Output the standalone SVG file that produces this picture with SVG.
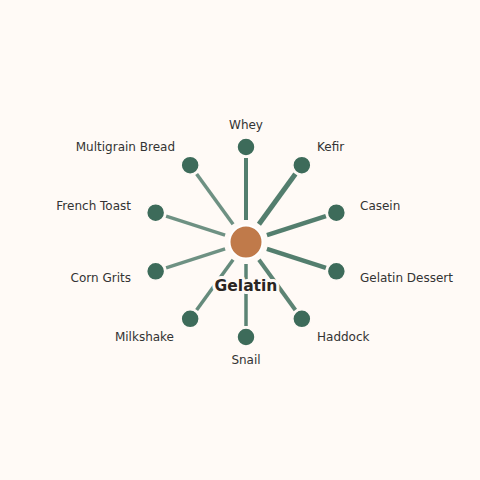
<svg xmlns="http://www.w3.org/2000/svg" width="480" height="480" viewBox="0 0 480 480">
<style>
.spoke{stroke:#4a7766;stroke-linecap:butt;fill:none}
.node{fill:#3d6b5a;stroke:#fffaf6;stroke-width:1.5}
.lbl{font-family:"DejaVu Sans",sans-serif;font-size:12px;fill:#333}
.hub{fill:#c07a4a;stroke:#ffffff;stroke-width:2}
.title{font-family:"DejaVu Sans",sans-serif;font-size:15.5px;font-weight:bold;fill:#2a2522;stroke:#fffaf6;stroke-width:6;paint-order:stroke;stroke-linejoin:round}
</style>
<rect width="480" height="480" fill="#fffaf6"/>
<g id="connectors">
<line class="spoke" x1="246" y1="220" x2="246" y2="158" stroke-width="4" stroke-opacity="0.95"/>
<line class="spoke" x1="258.93" y1="224.2" x2="295.38" y2="174.04" stroke-width="5" stroke-opacity="0.95"/>
<line class="spoke" x1="266.92" y1="235.2" x2="325.89" y2="216.04" stroke-width="4.5" stroke-opacity="0.95"/>
<line class="spoke" x1="266.92" y1="248.8" x2="325.89" y2="267.96" stroke-width="4.5" stroke-opacity="0.95"/>
<line class="spoke" x1="258.93" y1="259.8" x2="295.38" y2="309.96" stroke-width="4" stroke-opacity="0.9"/>
<line class="spoke" x1="246" y1="264" x2="246" y2="326" stroke-width="3.5" stroke-opacity="0.9"/>
<line class="spoke" x1="233.07" y1="259.8" x2="196.62" y2="309.96" stroke-width="3.5" stroke-opacity="0.85"/>
<line class="spoke" x1="225.08" y1="248.8" x2="166.11" y2="267.96" stroke-width="3.5" stroke-opacity="0.8"/>
<line class="spoke" x1="225.08" y1="235.2" x2="166.11" y2="216.04" stroke-width="3.5" stroke-opacity="0.8"/>
<line class="spoke" x1="233.07" y1="224.2" x2="196.62" y2="174.04" stroke-width="3.5" stroke-opacity="0.8"/>
</g>
<g id="n-whey"><circle class="node" cx="246" cy="147" r="9"/><text class="lbl" x="246" y="128.5" text-anchor="middle">Whey</text></g>
<g id="n-kefir"><circle class="node" cx="301.84" cy="165.14" r="9"/><text class="lbl" x="317" y="151">Kefir</text></g>
<g id="n-casein"><circle class="node" cx="336.35" cy="212.64" r="9"/><text class="lbl" x="360" y="210">Casein</text></g>
<g id="n-gelatin-dessert"><circle class="node" cx="336.35" cy="271.36" r="9"/><text class="lbl" x="360" y="282">Gelatin Dessert</text></g>
<g id="n-haddock"><circle class="node" cx="301.84" cy="318.86" r="9"/><text class="lbl" x="317" y="341">Haddock</text></g>
<g id="n-snail"><circle class="node" cx="246" cy="337" r="9"/><text class="lbl" x="246" y="364" text-anchor="middle">Snail</text></g>
<g id="n-milkshake"><circle class="node" cx="190.16" cy="318.86" r="9"/><text class="lbl" x="174" y="341" text-anchor="end">Milkshake</text></g>
<g id="n-corn-grits"><circle class="node" cx="155.65" cy="271.36" r="9"/><text class="lbl" x="131" y="282" text-anchor="end">Corn Grits</text></g>
<g id="n-french-toast"><circle class="node" cx="155.65" cy="212.64" r="9"/><text class="lbl" x="131" y="210" text-anchor="end">French Toast</text></g>
<g id="n-multigrain-bread"><circle class="node" cx="190.16" cy="165.14" r="9"/><text class="lbl" x="175" y="151" text-anchor="end">Multigrain Bread</text></g>
<g id="n-gelatin"><circle class="hub" cx="246" cy="242" r="16.5"/><text class="title" x="246" y="291" text-anchor="middle">Gelatin</text></g>
</svg>
